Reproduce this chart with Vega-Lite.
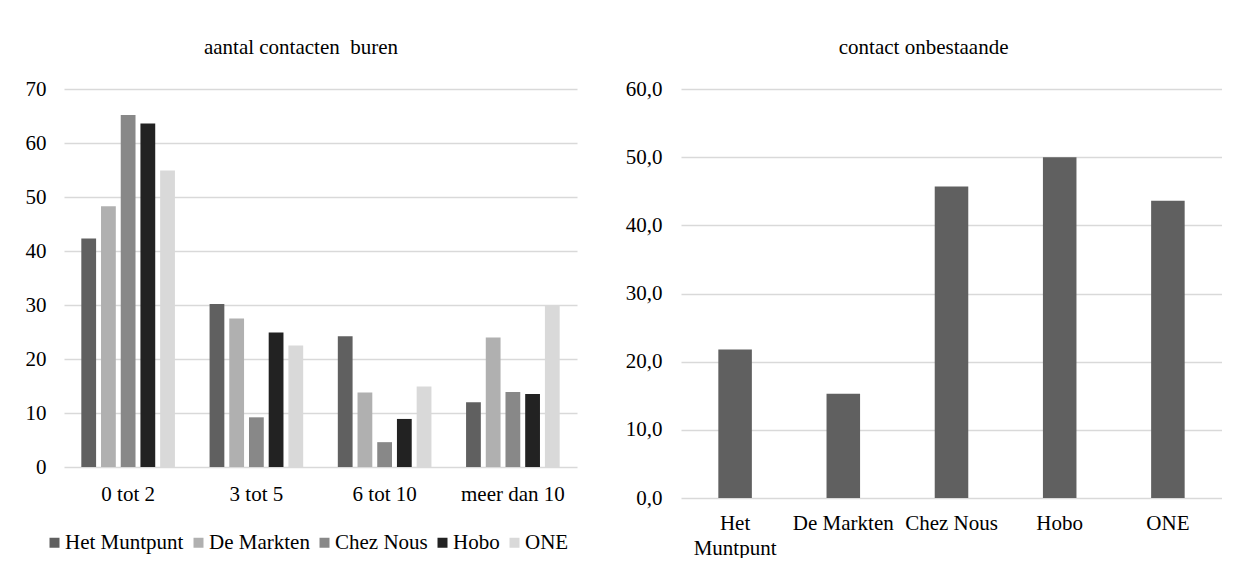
{
  "$schema": "https://vega.github.io/schema/vega-lite/v6.json",
  "background": "white",
  "padding": {"left": 25, "top": 37, "right": 0, "bottom": 0},
  "spacing": 48,
  "config": {
    "font": "Liberation Serif",
    "view": {"stroke": null},
    "style": {"guide-label": {"font": "Liberation Serif", "fontSize": 21, "fill": "#000000"}},
    "axis": {
      "labelFont": "Liberation Serif",
      "labelFontSize": 21,
      "labelColor": "#000000",
      "domain": false,
      "ticks": false,
      "title": null,
      "gridColor": "#d9d9d9",
      "gridWidth": 1.5
    },
    "title": {
      "font": "Liberation Serif",
      "fontSize": 21,
      "fontWeight": "normal",
      "color": "#000000",
      "anchor": "middle",
      "frame": "bounds",
      "offset": 20
    },
    "legend": {
      "labelFont": "Liberation Serif",
      "labelFontSize": 21,
      "labelColor": "#000000",
      "symbolType": "square",
      "symbolSize": 100,
      "symbolStrokeWidth": 0,
      "labelOffset": 0,
      "columnPadding": 4,
      "padding": 0
    }
  },
  "datasets": {
    "buren": [
      {"cat": "0 tot 2", "org": "Het Muntpunt", "value": 42.3},
      {"cat": "0 tot 2", "org": "De Markten", "value": 48.3},
      {"cat": "0 tot 2", "org": "Chez Nous", "value": 65.2},
      {"cat": "0 tot 2", "org": "Hobo", "value": 63.6},
      {"cat": "0 tot 2", "org": "ONE", "value": 54.9},
      {"cat": "3 tot 5", "org": "Het Muntpunt", "value": 30.2},
      {"cat": "3 tot 5", "org": "De Markten", "value": 27.5},
      {"cat": "3 tot 5", "org": "Chez Nous", "value": 9.2},
      {"cat": "3 tot 5", "org": "Hobo", "value": 24.9},
      {"cat": "3 tot 5", "org": "ONE", "value": 22.5},
      {"cat": "6 tot 10", "org": "Het Muntpunt", "value": 24.2},
      {"cat": "6 tot 10", "org": "De Markten", "value": 13.8},
      {"cat": "6 tot 10", "org": "Chez Nous", "value": 4.6},
      {"cat": "6 tot 10", "org": "Hobo", "value": 8.9},
      {"cat": "6 tot 10", "org": "ONE", "value": 14.9},
      {"cat": "meer dan 10", "org": "Het Muntpunt", "value": 12.0},
      {"cat": "meer dan 10", "org": "De Markten", "value": 24.0},
      {"cat": "meer dan 10", "org": "Chez Nous", "value": 13.9},
      {"cat": "meer dan 10", "org": "Hobo", "value": 13.5},
      {"cat": "meer dan 10", "org": "ONE", "value": 29.9}
    ],
    "onbestaande": [
      {"org": "Het Muntpunt", "value": 21.8},
      {"org": "De Markten", "value": 15.3},
      {"org": "Chez Nous", "value": 45.7},
      {"org": "Hobo", "value": 50.0},
      {"org": "ONE", "value": 43.6}
    ]
  },
  "resolve": {"scale": {"color": "independent"}},
  "hconcat": [
    {
      "title": "aantal contacten\u00a0 buren",
      "width": 513,
      "height": 378,
      "data": {"name": "buren"},
      "mark": {"type": "bar"},
      "encoding": {
        "x": {
          "field": "cat",
          "type": "nominal",
          "sort": ["0 tot 2", "3 tot 5", "6 tot 10", "meer dan 10"],
          "scale": {"paddingInner": 0.27, "paddingOuter": 0.135},
          "axis": {"labelAngle": 0, "labelPadding": 16, "grid": false}
        },
        "xOffset": {
          "field": "org",
          "type": "nominal",
          "scale": {
            "domain": ["Het Muntpunt", "De Markten", "Chez Nous", "Hobo", "ONE"],
            "paddingInner": 0.25,
            "paddingOuter": 0
          }
        },
        "y": {
          "field": "value",
          "type": "quantitative",
          "scale": {"domain": [0, 70], "nice": false},
          "axis": {"values": [0, 10, 20, 30, 40, 50, 60, 70], "labelPadding": 18, "grid": true}
        },
        "color": {
          "field": "org",
          "type": "nominal",
          "scale": {
            "domain": ["Het Muntpunt", "De Markten", "Chez Nous", "Hobo", "ONE"],
            "range": ["#606060", "#b0b0b0", "#888888", "#222222", "#d9d9d9"]
          },
          "legend": {
            "orient": "none",
            "legendX": -20,
            "legendY": 443,
            "direction": "horizontal",
            "title": null,
            "labelFont": "Liberation Serif",
            "labelFontSize": 21,
            "labelColor": "#000000"
          }
        }
      }
    },
    {
      "title": "contact onbestaande",
      "width": 541,
      "height": 409,
      "data": {"name": "onbestaande"},
      "mark": {"type": "bar", "color": "#606060"},
      "encoding": {
        "x": {
          "field": "org",
          "type": "nominal",
          "sort": ["Het Muntpunt", "De Markten", "Chez Nous", "Hobo", "ONE"],
          "scale": {"paddingInner": 0.69, "paddingOuter": 0.345},
          "axis": {
            "labelAngle": 0,
            "labelPadding": 14,
            "grid": false,
            "labelExpr": "length(datum.label) > 11 ? split(datum.label, ' ') : datum.label",
            "labelLineHeight": 25
          }
        },
        "y": {
          "field": "value",
          "type": "quantitative",
          "scale": {"domain": [0, 60], "nice": false},
          "axis": {
            "values": [0, 10, 20, 30, 40, 50, 60],
            "labelPadding": 19,
            "grid": true,
            "labelExpr": "replace(format(datum.value, '.1f'), '.', ',')"
          }
        }
      }
    }
  ]
}
